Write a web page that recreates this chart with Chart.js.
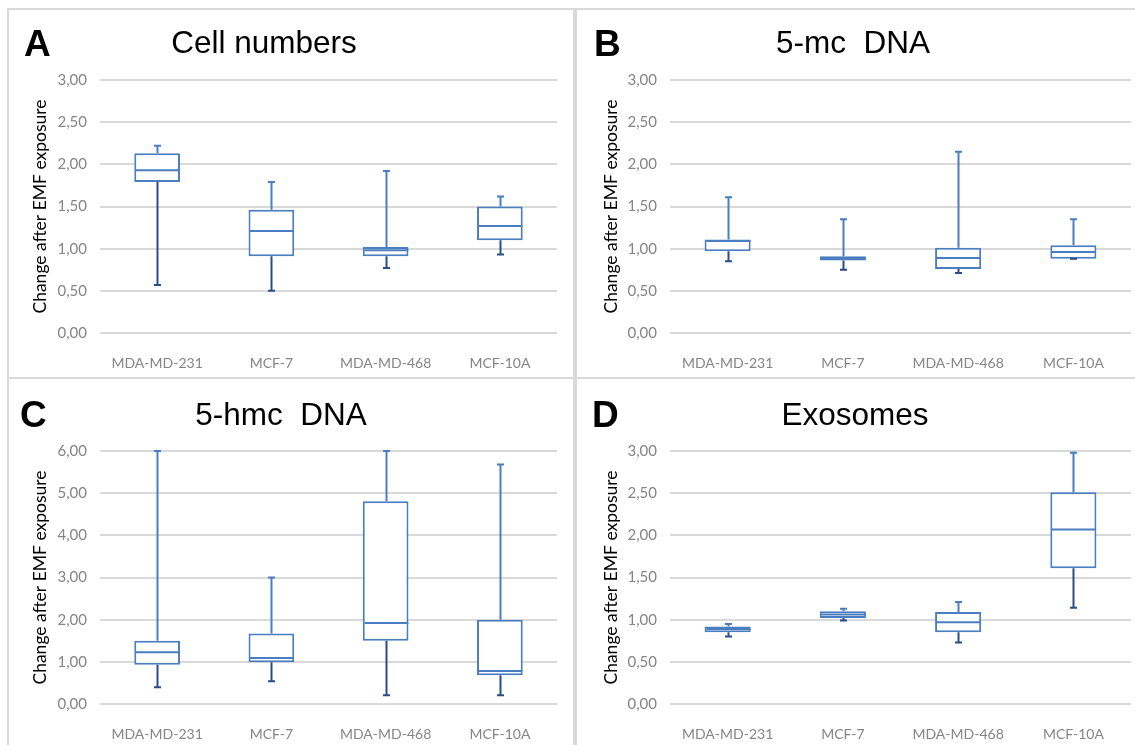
<!DOCTYPE html>
<html>
<head>
<meta charset="utf-8">
<script src="https://cdn.jsdelivr.net/npm/chart.js@4.4.1/dist/chart.umd.min.js"></script>
<style>
  body { margin: 0; background: #fff; width: 1135px; height: 745px; overflow: hidden; position: relative; }
  .panel { position: absolute; border-top: 2px solid #d9d9d9; border-left: 2px solid #d9d9d9; box-sizing: border-box; }
  .panel canvas { position: absolute; left: 0; top: 0; }
  .letter { position: absolute; font: bold 37px "Liberation Sans", Arial, sans-serif; line-height: 37px; color: #000; }
  .title { position: absolute; font: 31.5px "Liberation Sans", Arial, sans-serif; line-height: 30px; color: #000; transform: translateX(-50%); white-space: pre; }
</style>
</head>
<body>
<div class="panel" style="left:7px;top:8px;width:568px;height:369px;border-right:2px solid #d9d9d9;"><canvas id="chartA" width="564" height="365"></canvas></div>
<div class="panel" style="left:575px;top:8px;width:560px;height:369px;"><canvas id="chartB" width="558" height="365"></canvas></div>
<div class="panel" style="left:7px;top:377px;width:568px;height:368px;border-right:2px solid #d9d9d9;"><canvas id="chartC" width="564" height="366"></canvas></div>
<div class="panel" style="left:575px;top:377px;width:560px;height:368px;"><canvas id="chartD" width="558" height="366"></canvas></div>

<div class="letter" style="left:24px;top:25px;">A</div>
<div class="title" style="left:264px;top:27px;">Cell numbers</div>
<div class="letter" style="left:594px;top:25px;">B</div>
<div class="title" style="left:853px;top:27px;">5-mc  DNA</div>
<div class="letter" style="left:20px;top:396px;">C</div>
<div class="title" style="left:281px;top:399px;">5-hmc  DNA</div>
<div class="letter" style="left:592px;top:396px;">D</div>
<div class="title" style="left:855px;top:399px;">Exosomes</div>

<script>
const cellLines = ['MDA-MD-231', 'MCF-7', 'MDA-MD-468', 'MCF-10A'];

// A - cell numbers
const cellMin = [0.57, 0.50, 0.77, 0.93];
const cellQ1  = [1.79, 0.91, 0.91, 1.10];
const cellMed = [1.93, 1.21, 0.98, 1.27];
const cellQ3  = [2.13, 1.46, 1.02, 1.50];
const cellMax = [2.22, 1.79, 1.92, 1.62];

// B - 5-mc DNA
const mcMin = [0.85, 0.75, 0.71, 0.88];
const mcQ1  = [0.97, 0.86, 0.76, 0.88];
const mcMed = [1.09, 0.88, 0.89, 0.96];
const mcQ3  = [1.11, 0.91, 1.01, 1.04];
const mcMax = [1.61, 1.35, 2.15, 1.35];

// C - 5-hmc DNA
const hmcMin = [0.40, 0.54, 0.21, 0.21];
const hmcQ1  = [0.93, 0.99, 1.50, 0.68];
const hmcMed = [1.23, 1.09, 1.92, 0.78];
const hmcQ3  = [1.50, 1.67, 4.81, 2.00];
const hmcMax = [6.00, 3.00, 6.00, 5.68];

// D - exosomes
const exoMin = [0.80, 0.99, 0.73, 1.14];
const exoQ1  = [0.85, 1.02, 0.85, 1.61];
const exoMed = [0.89, 1.06, 0.97, 2.07];
const exoQ3  = [0.92, 1.10, 1.09, 2.51];
const exoMax = [0.95, 1.13, 1.21, 2.98];

const yTicksLow  = [0, 0.5, 1, 1.5, 2, 2.5, 3];
const yTicksHigh = [0, 1, 2, 3, 4, 5, 6];

const BOX_COLOR = '#4a7ec0';
const LOW_COLOR = '#2b4d85';
const CAP_WIDTH = 7;

// whiskers, caps and medians on top of the floating bars
const whiskerPlugin = {
  id: 'whiskers',
  afterDatasetsDraw(chart) {
    const stats = chart.options.plugins.whiskers;
    const y = chart.scales.y;
    const meta = chart.getDatasetMeta(0);
    const ctx = chart.ctx;
    ctx.save();
    ctx.lineWidth = 2;
    meta.data.forEach((bar, i) => {
      const x = Math.round(bar.x) + 0.5;
      const half = bar.width / 2;
      const pMin = y.getPixelForValue(stats.min[i]);
      const pQ1 = y.getPixelForValue(stats.q1[i]);
      const pMed = y.getPixelForValue(stats.med[i]);
      const pQ3 = y.getPixelForValue(stats.q3[i]);
      const pMax = y.getPixelForValue(stats.max[i]);

      ctx.strokeStyle = BOX_COLOR;
      ctx.beginPath();
      ctx.moveTo(x, pQ3);
      ctx.lineTo(x, pMax);
      ctx.moveTo(x - CAP_WIDTH / 2, pMax);
      ctx.lineTo(x + CAP_WIDTH / 2, pMax);
      ctx.moveTo(x - half + 1, pMed);
      ctx.lineTo(x + half - 1, pMed);
      ctx.stroke();

      ctx.strokeStyle = LOW_COLOR;
      ctx.beginPath();
      ctx.moveTo(x, pQ1);
      ctx.lineTo(x, pMin);
      ctx.moveTo(x - CAP_WIDTH / 2, pMin);
      ctx.lineTo(x + CAP_WIDTH / 2, pMin);
      ctx.stroke();
    });
    ctx.restore();
  }
};

function makeBoxChart(id, min, q1, med, q3, max, ticks, geo) {
  const ctx = document.getElementById(id).getContext('2d');
  return new Chart(ctx, {
    type: 'bar',
    data: {
      labels: cellLines,
      datasets: [{
        data: q1.map((v, i) => [v, q3[i]]),
        backgroundColor: '#ffffff',
        borderColor: BOX_COLOR,
        borderWidth: 2,
        borderSkipped: false,
        barPercentage: 0.4,
        categoryPercentage: 1
      }]
    },
    options: {
      responsive: false,
      animation: false,
      events: [],
      layout: { padding: { top: geo.top, right: geo.right, bottom: 0, left: 0 } },
      plugins: {
        legend: { display: false },
        tooltip: { enabled: false },
        whiskers: { min: min, q1: q1, med: med, q3: q3, max: max }
      },
      scales: {
        x: {
          grid: { display: false },
          border: { display: false },
          ticks: { color: '#858585', font: { family: 'Lato', size: 14 }, padding: 14, maxRotation: 0 },
          afterFit: (s) => { s.height = geo.bottom; }
        },
        y: {
          min: 0,
          max: ticks[ticks.length - 1],
          afterBuildTicks: (s) => { s.ticks = ticks.map(v => ({ value: v })); },
          grid: { color: '#d9d9d9', lineWidth: 2, drawTicks: false },
          border: { display: false },
          ticks: {
            color: '#858585',
            font: { family: 'Lato', size: 15 },
            padding: 13,
            callback: (v) => v.toFixed(2).replace('.', ',')
          },
          title: {
            display: true,
            text: 'Change after EMF exposure',
            color: '#000',
            font: { family: 'Lato', size: 17.5 },
            padding: { top: geo.titleOffset, bottom: 0 }
          },
          afterFit: (s) => { s.width = geo.left; }
        }
      }
    },
    plugins: [whiskerPlugin]
  });
}

makeBoxChart('chartA', cellMin, cellQ1, cellMed, cellQ3, cellMax, yTicksLow,
  { top: 70, right: 16, bottom: 42, left: 91, titleOffset: 21 });
makeBoxChart('chartB', mcMin, mcQ1, mcMed, mcQ3, mcMax, yTicksLow,
  { top: 70, right: 4, bottom: 42, left: 93, titleOffset: 24 });
makeBoxChart('chartC', hmcMin, hmcQ1, hmcMed, hmcQ3, hmcMax, yTicksHigh,
  { top: 72, right: 16, bottom: 41, left: 91, titleOffset: 21 });
makeBoxChart('chartD', exoMin, exoQ1, exoMed, exoQ3, exoMax, yTicksLow,
  { top: 72, right: 4, bottom: 41, left: 93, titleOffset: 24 });
</script>
</body>
</html>
